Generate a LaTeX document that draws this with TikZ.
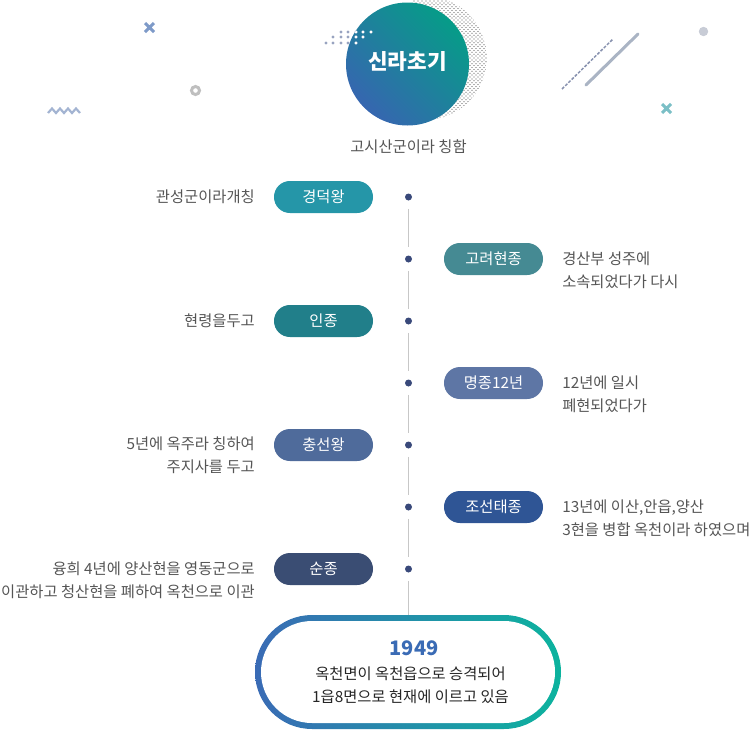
\documentclass[tikz,border=0pt]{standalone}
\usepackage{fontspec}
\setmainfont{Noto Sans CJK KR}
\usetikzlibrary{calc}
\definecolor{txtgray}{HTML}{555555}
\definecolor{ringblue}{HTML}{3A6BB5}
\definecolor{ringteal}{HTML}{0CB39E}
\definecolor{discblue}{HTML}{3666B0}
\definecolor{discteal}{HTML}{069C88}
\definecolor{dotnavy}{HTML}{39497A}
\definecolor{specklegray}{HTML}{98A3C0}
\tikzset{
	pill/.style={rounded corners=15.9*0.75pt, minimum width=99*0.75pt, minimum height=32*0.75pt, inner sep=0pt, text=white, font=\fontsize{11.5pt}{12pt}\selectfont},
	dot/.style={circle, fill=dotnavy, minimum size=7*0.75pt, inner sep=0pt},
	stem/.style={color=black!22, line width=0.75pt, shorten <=8*0.75pt, shorten >=8*0.75pt},
	lefttxt/.style={anchor=east, align=right, inner sep=0pt, text=txtgray, font=\fontsize{11.5pt}{17.4pt}\selectfont},
	righttxt/.style={anchor=west, align=left, inner sep=0pt, text=txtgray, font=\fontsize{11.5pt}{17.4pt}\selectfont},
}
\begin{document}
\begin{tikzpicture}[x=0.75pt, y=-0.75pt]
		%%%%% START %%%%%
		\useasboundingbox (0, 0) rectangle (750, 729);
		
		% halftone behind the circle
		\begin{scope}
			\clip (425, 58) circle (62);
			\foreach \i in {0,...,19}
				\foreach \j in {0,...,62}
					\fill[color=black!62] ({414+\i*4+mod(\j,2)*2}, {1+\j*1.9}) circle (0.62);
		\end{scope}
		
		\shade[left color=discblue, right color=discteal, shading angle=135] (407.5, 64) circle (61.5);
		
		% small dots over the circle edge
		\foreach \x/\y in {341/32, 348/32, 356/32, 363/32, 371/32, 333/37, 341/37, 348/37, 356/37, 363/37, 326/43, 333/43, 341/43, 348/43, 356/43}
			\fill[color=specklegray] (\x, \y) circle (1.7);
		\begin{scope}
			\clip (407.5, 64) circle (61.5);
			\foreach \x/\y in {341/32, 348/32, 356/32, 363/32, 371/32, 333/37, 341/37, 348/37, 356/37, 363/37, 326/43, 333/43, 341/43, 348/43, 356/43}
				\fill[color=white] (\x, \y) circle (1.7);
		\end{scope}
		
		\node[text=white, font=\fontsize{16pt}{18pt}\selectfont\bfseries] (title) at (407.5, 62) {신라초기};
		\node[text=txtgray, inner sep=0pt, font=\fontsize{11.5pt}{12pt}\selectfont] (subtitle) at (408.5, 147) {고시산군이라 칭함};
		
		% scattered marks
		\draw[line width=3*0.75pt, color={rgb,255:red,126;green,154;blue,200}] (145, 23) -- (154, 32) (154, 23) -- (145, 32);
		\draw[line width=3*0.75pt, color={rgb,255:red,123;green,191;blue,198}] (662, 104) -- (671, 113) (671, 104) -- (662, 113);
		\draw[line width=2.2*0.75pt, color={rgb,255:red,163;green,180;blue,210}] (48, 113) -- (52, 108.5) -- (56, 113) -- (60, 108.5) -- (64, 113) -- (68, 108.5) -- (72, 113) -- (76, 108.5) -- (80, 113);
		\draw[line width=3*0.75pt, color=black!25] (195.5, 90.5) circle (4);
		\fill[color={rgb,255:red,200;green,204;blue,214}] (703.5, 31.5) circle (4.7);
		\draw[line width=3*0.75pt, color={rgb,255:red,170;green,180;blue,196}, line cap=round] (586, 85) -- (638, 34);
		\draw[line width=1.5*0.75pt, color=dotnavy!60, dash pattern=on 3*0.75pt off 1.5*0.75pt] (562, 89) -- (613, 39);
		
		% timeline
		\foreach \n/\y in {a/197, b/259, c/321, d/383, e/445, f/507, g/569}
			\node[dot] (\n) at (408.5, \y) {};
		\draw[stem] (a) -- (b);
		\draw[stem] (b) -- (c);
		\draw[stem] (c) -- (d);
		\draw[stem] (d) -- (e);
		\draw[stem] (e) -- (f);
		\draw[stem] (f) -- (g);
		\coordinate (ringtop) at (408.5, 616);
		\draw[stem, shorten >=0pt] (g) -- (ringtop);
		
		\node[pill, fill={rgb,255:red,37;green,150;blue,168}] (gyeongdeok) at (323.5, 197) {경덕왕};
		\node[pill, fill={rgb,255:red,69;green,138;blue,147}] (goryeo) at (493.5, 259) {고려현종};
		\node[pill, fill={rgb,255:red,33;green,127;blue,138}] (injong) at (323.5, 321) {인종};
		\node[pill, fill={rgb,255:red,94;green,118;blue,165}] (myeongjong) at (493.5, 383) {명종12년};
		\node[pill, fill={rgb,255:red,79;green,107;blue,155}] (chungseon) at (323.5, 445) {충선왕};
		\node[pill, fill={rgb,255:red,47;green,85;blue,149}] (joseon) at (493.5, 507) {조선태종};
		\node[pill, fill={rgb,255:red,58;green,77;blue,115}] (sunjong) at (323.5, 569) {순종};
		
		\node[lefttxt] (t1) at (255, 197) {관성군이라개칭};
		\node[righttxt] (t2) at (562, 270) {경산부 성주에\\소속되었다가 다시};
		\node[lefttxt] (t3) at (255, 321) {현령을두고};
		\node[righttxt] (t4) at (562, 394) {12년에 일시\\폐현되었다가};
		\node[lefttxt] (t5) at (255, 455) {5년에 옥주라 칭하여\\주지사를 두고};
		\node[righttxt] (t6) at (562, 518) {13년에 이산,안읍,양산\\3현을 병합 옥천이라 하였으며};
		\node[lefttxt] (t7) at (255, 580) {융희 4년에 양산현을 영동군으로\\이관하고 청산현을 폐하여 옥천으로 이관};
		
		% end ring
		\shade[left color=ringblue, right color=ringteal, rounded corners=57*0.75pt] (255, 615) rectangle (561, 729);
		\fill[color=white, rounded corners=51*0.75pt] (261, 621) rectangle (555, 723);
		\node[text=ringblue, font=\fontsize{15pt}{16pt}\selectfont\bfseries] (year) at (414, 648) {1949};
		\node[align=center, inner sep=0pt, text=black!85, font=\fontsize{11.5pt}{17.4pt}\selectfont] (ringtxt) at (410.5, 685) {옥천면이 옥천읍으로 승격되어\\1읍8면으로 현재에 이르고 있음};
		
		%%%%% END %%%%%
	\end{tikzpicture}
\end{document}
